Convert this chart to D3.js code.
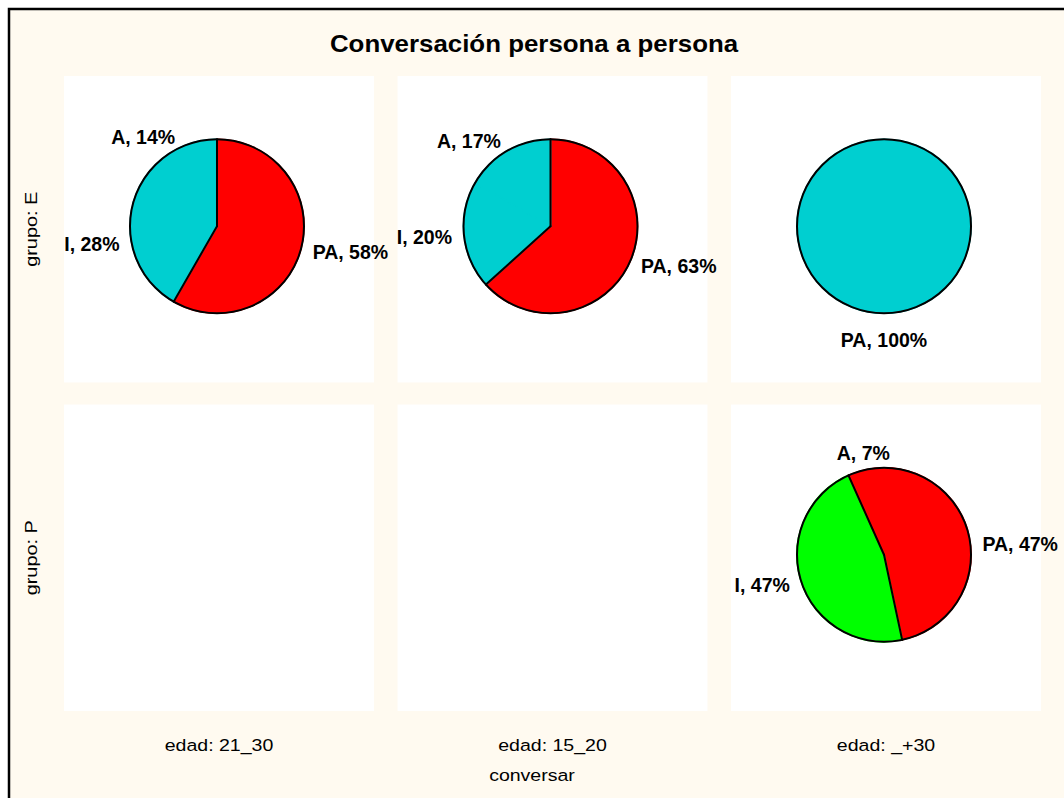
<!DOCTYPE html>
<html><head><meta charset="utf-8">
<script src="https://cdn.jsdelivr.net/npm/d3@7"></script>
<style>
html,body{margin:0;padding:0;background:#fff;}
text{font-family:"Liberation Sans",Arial,sans-serif;}
</style></head>
<body>
<svg id="chart" width="1064" height="798"></svg>
<script>
// ---- data ----
const titulo = "Conversación persona a persona";
const edades = ["21_30", "15_20", "_+30"];
const grupos = ["E", "P"];
const categorias = ["PA", "I", "A"];
// percentages per panel, in category order; null = empty panel
const valoresE = [[58.3, 27.8, 13.9], [63.3, 20.0, 16.7], [100, 0, 0]];
const valoresP = [null, null, [46.7, 46.7, 6.7]];
// slice colours per panel (as shown in the original)
const coloresE = [["#ff0000", "#00cfd0", "#00cfd0"], ["#ff0000", "#00cfd0", "#00cfd0"], ["#00cfd0", "#00cfd0", "#00cfd0"]];
const coloresP = [null, null, ["#ff0000", "#00ff00", "#ff0000"]];
const ejeX = "conversar";

const svg = d3.select("#chart");
const bg = "#fffaf0";

// outer frame
svg.append("rect").attr("x", 9).attr("y", 9).attr("width", 1100).attr("height", 900)
  .attr("fill", bg).attr("stroke", "#000").attr("stroke-width", 2.5);

function sText(x, y, str, size, weight, rot, k) {
  return svg.append("text")
    .attr("transform", `translate(${x},${y})` + (rot ? ` rotate(${rot})` : "") + ` scale(${k},1)`)
    .attr("text-anchor", "middle").attr("dominant-baseline", "central")
    .attr("font-size", size).attr("font-weight", weight || "normal").attr("fill", "#000")
    .text(str);
}

sText(534, 44, titulo, 23, "bold", 0, 1.125);

const x = d3.scaleBand().domain(edades).range([64, 1041]).paddingInner(0.0705);
const y = d3.scaleBand().domain(grupos).range([76, 711]).paddingInner(0.067);

const panels = [];
grupos.forEach((g, gi) => {
  edades.forEach((e, ei) => {
    panels.push({g, e, vals: gi === 0 ? valoresE[ei] : valoresP[ei], cols: gi === 0 ? coloresE[ei] : coloresP[ei]});
  });
});

// panel backgrounds
svg.selectAll("rect.panel").data(panels).join("rect").attr("class", "panel")
  .attr("x", d => x(d.e)).attr("y", d => y(d.g))
  .attr("width", x.bandwidth()).attr("height", y.bandwidth())
  .attr("fill", "#fff");

// axis labels
edades.forEach(e => sText(x(e) + x.bandwidth() / 2, 745, "edad: " + e, 17, "normal", 0, 1.15));
sText(532, 775, ejeX, 17, "normal", 0, 1.15);
grupos.forEach(g => sText(31, y(g) + y.bandwidth() / 2, "grupo: " + g, 17, "normal", -90, 1.17));

const r = 87;
const pie = d3.pie().sort(null).value(d => d.v).startAngle(0).endAngle(2 * Math.PI);
const arc = d3.arc().innerRadius(0).outerRadius(r);

panels.forEach(p => {
  if (!p.vals) return;
  const cx = x(p.e) + x.bandwidth() / 2 - 2;
  const cy = y(p.g) + y.bandwidth() / 2 - 3;
  const data = categorias.map((c, i) => ({c, v: p.vals[i], col: p.cols[i]}));
  const arcs = pie(data);
  const nz = arcs.filter(a => a.data.v > 0);
  const gp = svg.append("g").attr("transform", `translate(${cx},${cy})`);
  gp.selectAll("path").data(nz).join("path")
    .attr("d", arc).attr("fill", a => a.data.col).attr("stroke", a => a.data.col).attr("stroke-width", 1.6)
    .attr("stroke-linejoin", "round");
  // separators between differently coloured neighbours
  if (nz.length > 1) {
    nz.forEach((a, i) => {
      const prev = nz[(i - 1 + nz.length) % nz.length];
      if (prev.data.col !== a.data.col) {
        const ang = a.startAngle;
        gp.append("line").attr("x1", 0).attr("y1", 0)
          .attr("x2", r * Math.sin(ang)).attr("y2", -r * Math.cos(ang))
          .attr("stroke", "#000").attr("stroke-width", 2).attr("stroke-linecap", "round");
      }
    });
  }
  gp.append("circle").attr("r", r).attr("fill", "none").attr("stroke", "#000").attr("stroke-width", 2);
  p.arcs = nz; p.cx = cx; p.cy = cy;
});

// labels on top of everything
panels.forEach(p => {
  if (!p.arcs) return;
  p.arcs.forEach(a => {
    const m = (a.startAngle + a.endAngle) / 2;
    const s = Math.sin(m), c = Math.cos(m);
    const lr = r + 12;
    let lx = p.cx + lr * s, ly = p.cy - lr * c;
    let anchor = "middle";
    if (s > 0.3) anchor = "start"; else if (s < -0.3) anchor = "end";
    else ly += c > 0 ? -c * 5 : -c * 15;
    svg.append("text").attr("x", lx).attr("y", ly)
      .attr("text-anchor", anchor).attr("dominant-baseline", "central")
      .attr("font-size", 19.5).attr("font-weight", "bold").attr("fill", "#000")
      .text(a.data.c + ", " + Math.round(a.data.v) + "%");
  });
});
</script>
</body></html>
